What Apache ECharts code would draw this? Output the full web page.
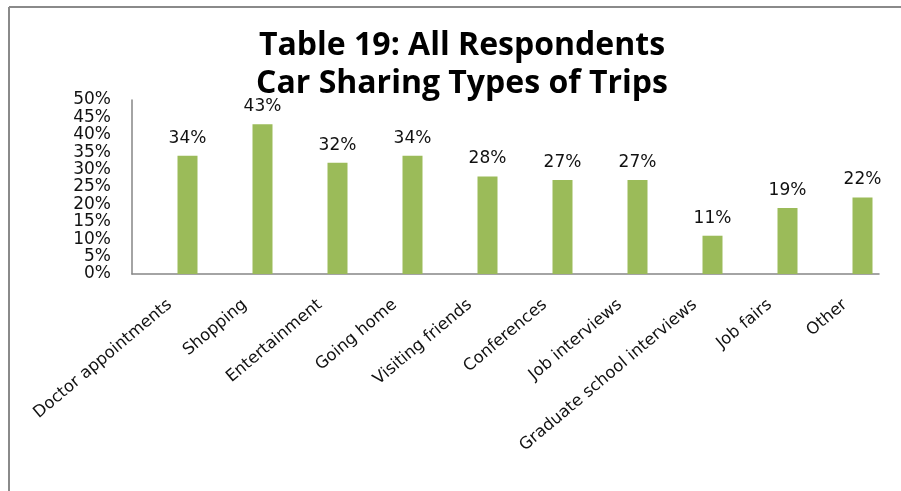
<!DOCTYPE html>
<html>
<head>
<meta charset="utf-8">
<script src="https://cdn.jsdelivr.net/npm/echarts@6/dist/echarts.min.js"></script>
<style>
html,body{margin:0;padding:0;background:#fff;}
#chart{width:901px;height:491px;}
</style>
</head>
<body>
<div id="chart"></div>
<script>
const titleLines = ['Table 19: All Respondents', 'Car Sharing Types of Trips'];
const categories = ['Doctor appointments', 'Shopping', 'Entertainment', 'Going home', 'Visiting friends', 'Conferences', 'Job interviews', 'Graduate school interviews', 'Job fairs', 'Other'];
const values = [34, 43, 32, 34, 28, 27, 27, 11, 19, 22];
const yTicks = { min: 0, max: 50, interval: 5 };

const chart = echarts.init(document.getElementById('chart'));
const font = 'DejaVu Sans';
chart.setOption({
  animation: false,
  backgroundColor: '#fff',
  title: {
    text: titleLines.join('\n'),
    left: 457, top: 22, textAlign: 'center',
    textStyle: { fontFamily: 'Open Sans', fontWeight: 'bold', fontSize: 32, lineHeight: 38, color: '#000' }
  },
  graphic: [
    { type: 'line', shape: { x1: 9, y1: 7, x2: 901, y2: 7 }, style: { stroke: '#8a8a8a', lineWidth: 2 } },
    { type: 'line', shape: { x1: 9, y1: 7, x2: 9, y2: 491 }, style: { stroke: '#8a8a8a', lineWidth: 2 } }
  ],
  grid: [
    { left: 150, right: 1, top: 100, bottom: 217 },
    { left: 132, right: 22, top: 100, bottom: 217 }
  ],
  xAxis: [
    {
      type: 'category', data: categories, gridIndex: 0,
      axisLine: { show: false }, axisTick: { show: false },
      axisLabel: { rotate: 40, interval: 0, margin: 14, padding: [0, 23, 0, 0], fontFamily: font, fontSize: 16.5, color: '#111' }
    },
    {
      type: 'value', gridIndex: 1, min: 0, max: 1,
      axisLine: { show: true, lineStyle: { color: '#868686', width: 1.5 } },
      axisTick: { show: false }, axisLabel: { show: false }, splitLine: { show: false }
    }
  ],
  yAxis: [
    {
      type: 'value', gridIndex: 0, min: yTicks.min, max: yTicks.max, interval: yTicks.interval, offset: 18,
      axisLine: { show: true, lineStyle: { color: '#868686', width: 1.5 } },
      axisTick: { show: false }, splitLine: { show: false },
      axisLabel: { formatter: '{value}%', margin: 21, fontFamily: font, fontSize: 17, color: '#111' }
    },
    { type: 'value', gridIndex: 1, min: 0, max: 1, show: false }
  ],
  series: [{
    type: 'bar', data: values, barWidth: 20, xAxisIndex: 0, yAxisIndex: 0,
    itemStyle: { color: '#9BBB59' },
    label: { show: true, position: 'top', distance: 9, formatter: '{c}%', fontFamily: font, fontSize: 17, color: '#111' }
  }]
});
</script>
</body>
</html>
